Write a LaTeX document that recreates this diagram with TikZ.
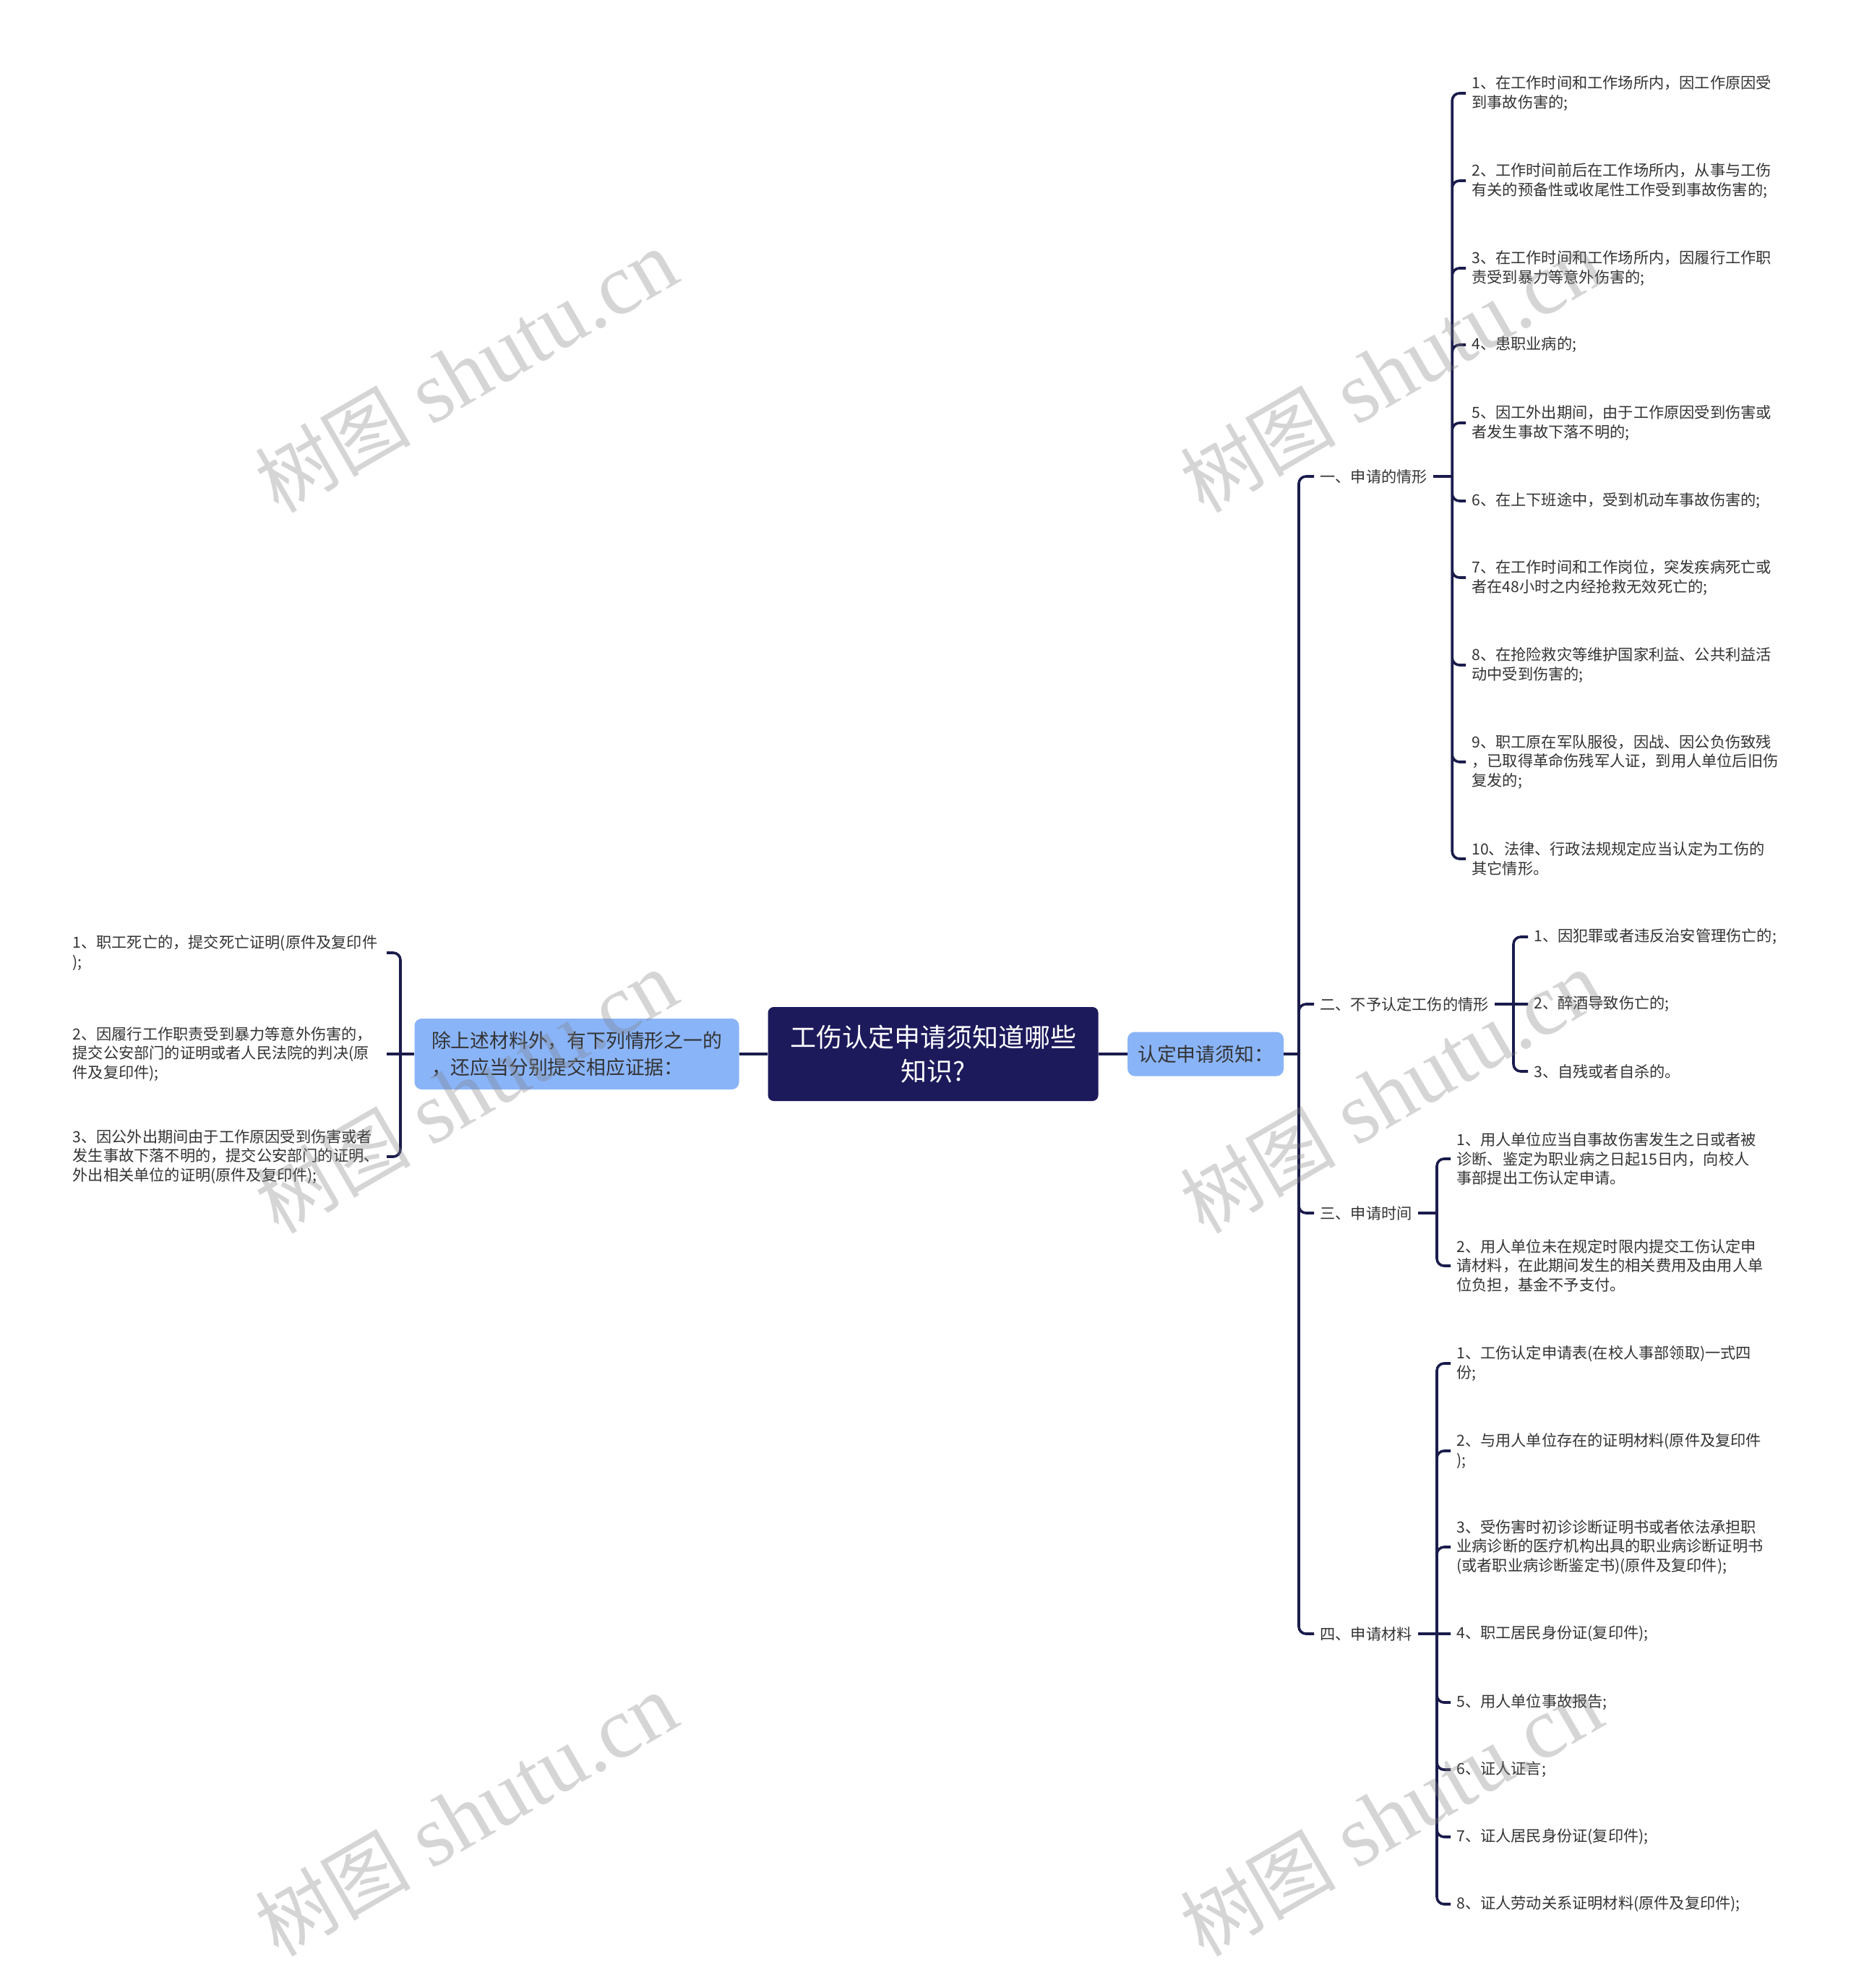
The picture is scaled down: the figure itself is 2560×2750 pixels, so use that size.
\documentclass[tikz,border=0pt]{standalone}
\usepackage{fontspec}
\usepackage{xcolor}
\usepackage{tikz}
\newfontfamily\cjkfont{Noto Sans CJK SC}
\newfontfamily\wmfont{Liberation Serif}
\definecolor{navy}{HTML}{1C1A5B}
\definecolor{skyfill}{HTML}{8AB4F8}
\definecolor{wire}{HTML}{1B1C4C}
\definecolor{ink}{HTML}{333333}
\definecolor{wmgray}{HTML}{808080}
\tikzset{
  rootbox/.style={fill=navy,rounded corners=4pt,text=white,align=center,inner sep=0pt,minimum width=228.5pt,minimum height=65pt,font=\cjkfont\fontsize{18pt}{23.7pt}\selectfont},
  bluebox/.style={fill=skyfill,rounded corners=5pt,text=ink,align=left,inner sep=0pt,font=\cjkfont\fontsize{13.4pt}{18.4pt}\selectfont},
  headtxt/.style={text=ink,inner xsep=4pt,inner ysep=2pt,font=\cjkfont\fontsize{10.6pt}{13.2pt}\selectfont},
  leaftxt/.style={headtxt,align=left},
  conn/.style={draw=wire,line width=1.8pt,rounded corners=5pt},
  wmtext/.style={text=wmgray,text opacity=.33,rotate=30,inner sep=0pt},
}
\newcommand{\wmlabel}{{\cjkfont\fontsize{54pt}{60pt}\selectfont 树图}\hspace{14pt}{\wmfont\fontsize{60pt}{64pt}\selectfont shutu.cn}}

\begin{document}
\begin{tikzpicture}[x=0.5pt,y=-0.5pt]
  \useasboundingbox[fill=white] (0,0) rectangle (2560,2750);

  \node[rootbox] (root) at (1291,1458) {工伤认定申请须知道哪些\\知识?};
  \node[bluebox,minimum width=108pt,minimum height=30.5pt,align=center] (notice) at (1668,1458) {认定申请须知：};
  \node[bluebox,minimum width=224.5pt,minimum height=49pt] (extra) at (798,1458) {除上述材料外，有下列情形之一的\\，还应当分别提交相应证据：};

  % right side
  \node[headtxt,anchor=west] (h1) at (1818,659) {一、申请的情形};
  \node[headtxt,anchor=west] (h2) at (1818,1389) {二、不予认定工伤的情形};
  \node[headtxt,anchor=west] (h3) at (1818,1678) {三、申请时间};
  \node[headtxt,anchor=west] (h4) at (1818,2260) {四、申请材料};
  \coordinate (jR) at (1797,1458);
  \coordinate (j1) at ([xshift=13pt]h1.east);
  \coordinate (j2) at ([xshift=13pt]h2.east);
  \coordinate (j3) at ([xshift=13pt]h3.east);
  \coordinate (j4) at ([xshift=13pt]h4.east);

  \node[leaftxt,anchor=west] (a1) at (2028,129) {1、在工作时间和工作场所内，因工作原因受\\到事故伤害的;};
  \node[leaftxt,anchor=west] (a2) at (2028,250) {2、工作时间前后在工作场所内，从事与工伤\\有关的预备性或收尾性工作受到事故伤害的;};
  \node[leaftxt,anchor=west] (a3) at (2028,371) {3、在工作时间和工作场所内，因履行工作职\\责受到暴力等意外伤害的;};
  \node[leaftxt,anchor=west] (a4) at (2028,477) {4、患职业病的;};
  \node[leaftxt,anchor=west] (a5) at (2028,585) {5、因工外出期间，由于工作原因受到伤害或\\者发生事故下落不明的;};
  \node[leaftxt,anchor=west] (a6) at (2028,693) {6、在上下班途中，受到机动车事故伤害的;};
  \node[leaftxt,anchor=west] (a7) at (2028,799) {7、在工作时间和工作岗位，突发疾病死亡或\\者在48小时之内经抢救无效死亡的;};
  \node[leaftxt,anchor=west] (a8) at (2028,920) {8、在抢险救灾等维护国家利益、公共利益活\\动中受到伤害的;};
  \node[leaftxt,anchor=west] (a9) at (2028,1054) {9、职工原在军队服役，因战、因公负伤致残\\，已取得革命伤残军人证，到用人单位后旧伤\\复发的;};
  \node[leaftxt,anchor=west] (a10) at (2028,1188) {10、法律、行政法规规定应当认定为工伤的\\其它情形。};

  \node[leaftxt,anchor=west] (b1) at (2114,1296) {1、因犯罪或者违反治安管理伤亡的;};
  \node[leaftxt,anchor=west] (b2) at (2114,1389) {2、醉酒导致伤亡的;};
  \node[leaftxt,anchor=west] (b3) at (2114,1482) {3、自残或者自杀的。};

  \node[leaftxt,anchor=west] (c1) at (2007,1603) {1、用人单位应当自事故伤害发生之日或者被\\诊断、鉴定为职业病之日起15日内，向校人\\事部提出工伤认定申请。};
  \node[leaftxt,anchor=west] (c2) at (2007,1751) {2、用人单位未在规定时限内提交工伤认定申\\请材料，在此期间发生的相关费用及由用人单\\位负担，基金不予支付。};

  \node[leaftxt,anchor=west] (d1) at (2007,1886) {1、工伤认定申请表(在校人事部领取)一式四\\份;};
  \node[leaftxt,anchor=west] (d2) at (2007,2007) {2、与用人单位存在的证明材料(原件及复印件\\);};
  \node[leaftxt,anchor=west] (d3) at (2007,2140) {3、受伤害时初诊诊断证明书或者依法承担职\\业病诊断的医疗机构出具的职业病诊断证明书\\(或者职业病诊断鉴定书)(原件及复印件);};
  \node[leaftxt,anchor=west] (d4) at (2007,2260) {4、职工居民身份证(复印件);};
  \node[leaftxt,anchor=west] (d5) at (2007,2355) {5、用人单位事故报告;};
  \node[leaftxt,anchor=west] (d6) at (2007,2448) {6、证人证言;};
  \node[leaftxt,anchor=west] (d7) at (2007,2541) {7、证人居民身份证(复印件);};
  \node[leaftxt,anchor=west] (d8) at (2007,2634) {8、证人劳动关系证明材料(原件及复印件);};

  % left side
  \coordinate (jL) at (554,1458);
  \node[leaftxt,anchor=east,text width=213pt] (e1) at (535,1318) {1、职工死亡的，提交死亡证明(原件及复印件\\);};
  \node[leaftxt,anchor=east,text width=213pt] (e2) at (535,1458) {2、因履行工作职责受到暴力等意外伤害的，\\提交公安部门的证明或者人民法院的判决(原\\件及复印件);};
  \node[leaftxt,anchor=east,text width=213pt] (e3) at (535,1600) {3、因公外出期间由于工作原因受到伤害或者\\发生事故下落不明的，提交公安部门的证明、\\外出相关单位的证明(原件及复印件);};

  \draw[conn] (root.east) -- (notice.west);
  \draw[conn] (notice.east) -- (jR);
  \draw[conn] (jR) |- (h1.west) (jR) |- (h2.west) (jR) |- (h3.west) (jR) |- (h4.west);
  \draw[conn] (h1.east) -- (j1);
  \draw[conn] (j1) |- (a1.west) (j1) |- (a2.west) (j1) |- (a3.west) (j1) |- (a4.west) (j1) |- (a5.west);
  \draw[conn] (j1) |- (a6.west) (j1) |- (a7.west) (j1) |- (a8.west) (j1) |- (a9.west) (j1) |- (a10.west);
  \draw[conn] (h2.east) -- (j2);
  \draw[conn] (j2) |- (b1.west) (j2) -- (b2.west) (j2) |- (b3.west);
  \draw[conn] (h3.east) -- (j3);
  \draw[conn] (j3) |- (c1.west) (j3) |- (c2.west);
  \draw[conn] (h4.east) -- (j4);
  \draw[conn] (j4) |- (d1.west) (j4) |- (d2.west) (j4) |- (d3.west) (j4) -- (d4.west);
  \draw[conn] (j4) |- (d5.west) (j4) |- (d6.west) (j4) |- (d7.west) (j4) |- (d8.west);
  \draw[conn] (root.west) -- (extra.east);
  \draw[conn] (extra.west) -- (jL);
  \draw[conn] (jL) |- (e1.east) (jL) -- (e2.east) (jL) |- (e3.east);

  % watermarks
  \node[wmtext] (w1) at (645,514) {\wmlabel};
  \node[wmtext] (w2) at (1925,514) {\wmlabel};
  \node[wmtext] (w3) at (645,1511) {\wmlabel};
  \node[wmtext] (w4) at (1925,1511) {\wmlabel};
  \node[wmtext] (w5) at (645,2511) {\wmlabel};
  \node[wmtext] (w6) at (1925,2511) {\wmlabel};
\end{tikzpicture}
\end{document}
